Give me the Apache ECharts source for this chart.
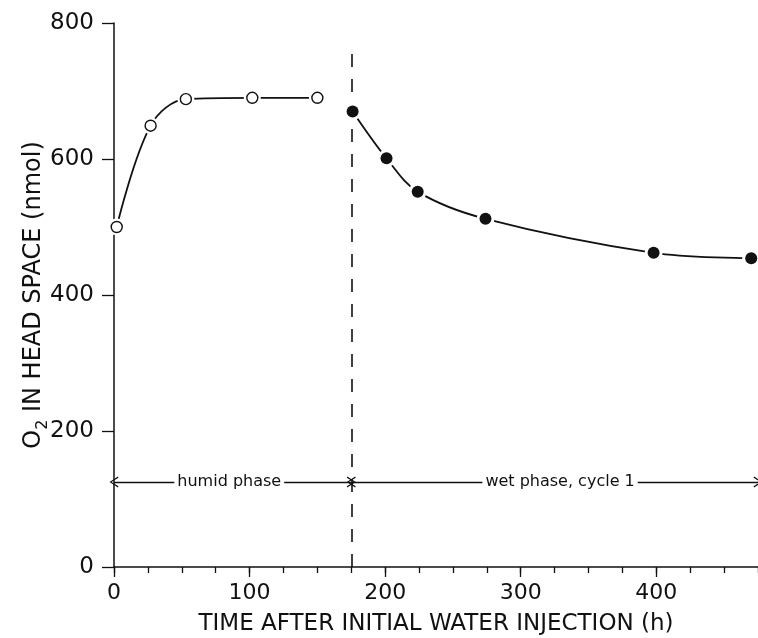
<!DOCTYPE html>
<html>
<head>
<meta charset="utf-8">
<script src="https://cdn.jsdelivr.net/npm/echarts@6/dist/echarts.min.js"></script>
<style>
  html, body { margin: 0; padding: 0; background: #fff; }
  #chart { width: 758px; height: 638px; }
</style>
</head>
<body>
<div id="chart"></div>
<script>
// ---- data ----
const humidX = [2, 27, 53, 102, 150];
const humidY = [500, 649, 688, 690, 690];
const wetX = [176, 201, 224, 274, 398, 470];
const wetY = [670, 601, 552, 512, 462, 454];
const yTicks = [0, 200, 400, 600, 800];
const xMajorTicks = [0, 100, 200, 300, 400];
const xMinorTicks = [0, 25, 50, 75, 100, 125, 150, 175, 200, 225, 250, 275, 300, 325, 350, 375, 400, 425, 450, 475];
const phaseBoundary = 175;      // h, dashed line
const dashedTop = 768;          // nmol, top of dashed line
const arrowLevel = 125;         // nmol, level of phase arrows
const phaseStart = [0, 175];
const phaseEnd = [175, 475];
const phaseLabelX = [85, 329];
const phaseLabels = ['humid phase', 'wet phase, cycle 1'];

const FONT = 'DejaVu Sans';
const INK = '#111';

const pairs = (xs, ys) => xs.map((x, i) => [x, ys[i]]);
const chevron = 'path://M0,10 L5,0 L10,10 L8.9,10.7 L5,2.4 L1.1,10.7 Z';

const chart = echarts.init(document.getElementById('chart'), null, { renderer: 'canvas' });

const option = {
  animation: false,
  backgroundColor: '#fff',
  grid: { left: 114, right: 0, top: 23, bottom: 71, outerBoundsMode: 'none', containLabel: false },
  xAxis: [
    {
      type: 'value', min: xMinorTicks[0], max: xMinorTicks[xMinorTicks.length - 1], interval: 25,
      axisLine: { show: true, lineStyle: { color: INK, width: 1.5 } },
      axisTick: { show: true, inside: false, length: 6, lineStyle: { color: INK, width: 1.3 } },
      axisLabel: { show: false },
      splitLine: { show: false }
    },
    {
      type: 'value', min: xMinorTicks[0], max: xMinorTicks[xMinorTicks.length - 1], interval: 100,
      position: 'bottom',
      axisLine: { show: false },
      axisTick: { show: true, inside: false, length: 10, customValues: xMajorTicks, lineStyle: { color: INK, width: 1.3 } },
      axisLabel: { show: true, customValues: xMajorTicks, margin: 15, color: INK, fontFamily: FONT, fontSize: 22 },
      splitLine: { show: false },
      name: 'TIME AFTER INITIAL WATER INJECTION (h)',
      nameLocation: 'middle', nameGap: 46, nameMoveOverlap: false,
      nameTextStyle: { color: INK, fontFamily: FONT, fontSize: 23 }
    }
  ],
  yAxis: {
    type: 'value', min: yTicks[0], max: yTicks[yTicks.length - 1], interval: 200,
    axisLine: { show: true, lineStyle: { color: INK, width: 1.5 } },
    axisTick: { show: true, inside: false, length: 12, lineStyle: { color: INK, width: 1.3 } },
    axisLabel: { show: true, margin: 20, color: INK, fontFamily: FONT, fontSize: 23 },
    splitLine: { show: false },
    name: '{o|O}{s|2}{t| IN HEAD SPACE (nmol)}',
    nameLocation: 'middle', nameGap: 63, nameMoveOverlap: false,
    nameTextStyle: {
      color: INK, fontFamily: FONT, fontSize: 24,
      rich: {
        o: { fontFamily: FONT, fontSize: 24, color: INK, lineHeight: 34, verticalAlign: 'middle' },
        s: { fontFamily: FONT, fontSize: 16, color: INK, verticalAlign: 'bottom' },
        t: { fontFamily: FONT, fontSize: 24, color: INK, lineHeight: 34, verticalAlign: 'middle' }
      }
    }
  },
  series: [
    {
      name: 'humid curve', type: 'line', xAxisIndex: 0, smooth: 0.35,
      data: pairs(humidX, humidY),
      symbol: 'circle', symbolSize: 17, showSymbol: true,
      itemStyle: { color: '#fff', borderWidth: 0 },
      lineStyle: { color: INK, width: 1.8 },
      z: 3
    },
    {
      name: 'wet curve', type: 'line', xAxisIndex: 0, smooth: 0.35,
      data: pairs(wetX, wetY),
      symbol: 'circle', symbolSize: 18, showSymbol: true,
      itemStyle: { color: '#fff', borderWidth: 0 },
      lineStyle: { color: INK, width: 1.8 },
      z: 3
    },
    {
      name: 'humid points', type: 'scatter', xAxisIndex: 0,
      data: pairs(humidX, humidY),
      symbol: 'circle', symbolSize: 11,
      itemStyle: { color: '#fff', borderColor: INK, borderWidth: 1.4, opacity: 1 },
      z: 5
    },
    {
      name: 'wet points', type: 'scatter', xAxisIndex: 0,
      data: pairs(wetX, wetY),
      symbol: 'circle', symbolSize: 12,
      itemStyle: { color: INK, opacity: 1 },
      z: 5,
      markLine: {
        silent: true, z: 2,
        label: { show: false },
        data: [
          [
            { coord: [phaseBoundary, 0], symbol: 'none', lineStyle: { type: [13, 12], color: INK, width: 1.6 } },
            { coord: [phaseBoundary, dashedTop], symbol: 'none' }
          ],
          [
            { coord: [phaseStart[0], arrowLevel], symbol: chevron, symbolSize: [11, 9], lineStyle: { type: 'solid', color: INK, width: 1.4 } },
            { coord: [phaseEnd[0], arrowLevel], symbol: chevron, symbolSize: [11, 9] }
          ],
          [
            { coord: [phaseStart[1], arrowLevel], symbol: chevron, symbolSize: [11, 9], lineStyle: { type: 'solid', color: INK, width: 1.4 } },
            { coord: [phaseEnd[1], arrowLevel], symbol: chevron, symbolSize: [11, 9] }
          ]
        ]
      }
    },
    {
      name: 'phase labels', type: 'scatter', xAxisIndex: 0,
      data: [],
      z: 10,
      markPoint: {
        silent: true, z: 10,
        symbol: 'circle', symbolSize: 0,
        itemStyle: { color: 'rgba(0,0,0,0)' },
        data: phaseLabels.map((t, i) => ({
          coord: [phaseLabelX[i], arrowLevel],
          label: {
            show: true, position: 'inside', formatter: t,
            color: INK, fontFamily: FONT, fontSize: 16,
            backgroundColor: '#fff', padding: [2, 3]
          }
        }))
      }
    }
  ]
};

chart.setOption(option);
</script>
</body>
</html>
